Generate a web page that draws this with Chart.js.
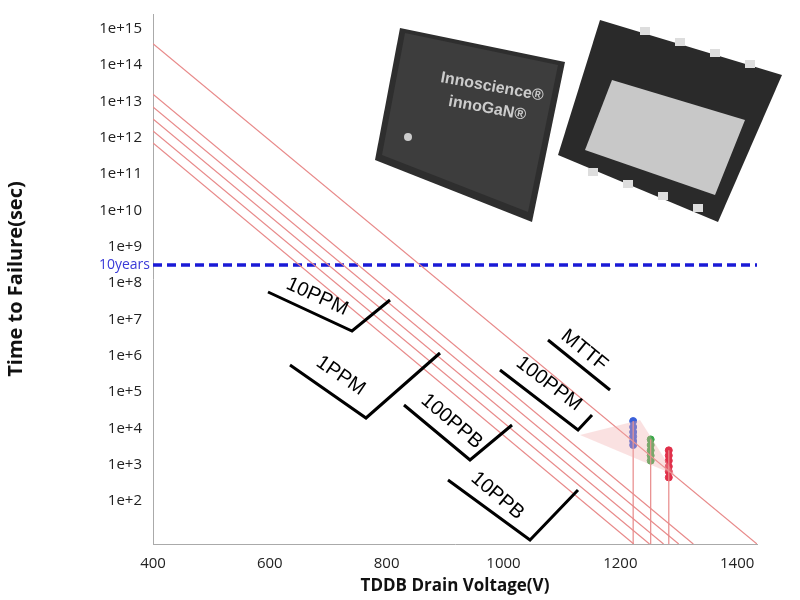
<!DOCTYPE html><html><head><script src="https://cdn.jsdelivr.net/npm/chart.js"></script>
<style>body{margin:0;background:#fff}</style></head><body>
<canvas id="c" width="800" height="600" style="width:800px;height:600px"></canvas>
<script>
const lineNames=['MTTF','100PPM','10PPM','1PPM','100PPB','10PPB'];
const lineStartV=[400,400,400,400,400,400];
const lineStartT=[3.9e14,1.6e13,7.1e12,3.3e12,1.55e12,7.2e11];
const lineEndV=[1434,1325,1300,1274,1250,1223];
const lineEndT=[6.6,6.6,6.6,6.6,6.6,6.6];
const tenYears=3.15e8;
const blueV=[1222,1222,1222,1222,1222,1222];
const blueT=[16000,11000,8000,6000,4500,3500];
const greenV=[1252,1252,1252,1252,1252];
const greenT=[5000,3500,2500,1800,1300];
const redV=[1283,1283,1283,1283,1283,1283];
const redT=[2500,1800,1300,900,650,450];
const yTicks=[2,3,4,5,6,7,8,9,10,11,12,13,14,15];
const xTickLabels=[400,600,800,1000,1200,1400];
const annotations=[
 {t:'10PPM',p:[[268,292],[352,331],[390,300]],x:285,y:288,r:0.43},
 {t:'1PPM',p:[[290,365],[366,418],[440,353]],x:315,y:365,r:0.6},
 {t:'100PPB',p:[[404,405],[470,460],[512,425]],x:420,y:402,r:0.7},
 {t:'10PPB',p:[[448,480],[530,540],[578,490]],x:470,y:480,r:0.7},
 {t:'100PPM',p:[[500,370],[578,430],[592,415]],x:515,y:365,r:0.65},
 {t:'MTTF',p:[[548,340],[610,390]],x:560,y:338,r:0.68}
];
const ds=[];
lineNames.forEach((n,i)=>ds.push({type:'line',label:n,data:[{x:lineStartV[i],y:lineStartT[i]},{x:lineEndV[i],y:lineEndT[i]}],borderColor:'#e88a8a',borderWidth:1.2,pointRadius:0}));
ds.push({type:'line',label:'10years',data:[{x:400,y:tenYears},{x:1434,y:tenYears}],borderColor:'#1a1ad6',borderWidth:3.5,borderDash:[9,5],pointRadius:0});
[[blueV,blueT,'#3a5fd9'],[greenV,greenT,'#3aa84a'],[redV,redT,'#e0304a']].forEach(([v,t,c])=>{
 ds.push({type:'line',data:[{x:v[0],y:t[0]},{x:v[0],y:6.6}],borderColor:'#e88a8a',borderWidth:1.2,pointRadius:0});
 ds.push({type:'scatter',data:v.map((x,i)=>({x,y:t[i]})),backgroundColor:c,borderColor:c,pointRadius:3.5});
});
const deco={id:'deco',afterDraw(ch){const c=ch.ctx;const ys=ch.scales.y;
 c.save();c.fillStyle='#3a3ad8';c.font='14px "Open Sans"';c.textAlign='right';c.textBaseline='middle';c.fillText('10years',150,ys.getPixelForValue(tenYears));
 c.fillStyle='#2e2e2e';c.beginPath();c.moveTo(400,28);c.lineTo(565,62);c.lineTo(532,222);c.lineTo(375,160);c.closePath();c.fill();
 c.fillStyle='#3d3d3d';c.beginPath();c.moveTo(405,33);c.lineTo(558,65);c.lineTo(528,212);c.lineTo(382,155);c.closePath();c.fill();
 c.fillStyle='#ccc';c.font='bold 16px "Liberation Sans"';c.textAlign='left';c.textBaseline='alphabetic';c.save();c.translate(440,82);c.rotate(0.18);c.fillText('Innoscience®',0,0);c.fillText('innoGaN®',12,22);c.restore();
 c.beginPath();c.arc(408,137,4,0,7);c.fill();
 c.fillStyle='#2a2a2a';c.beginPath();c.moveTo(600,20);c.lineTo(782,75);c.lineTo(718,222);c.lineTo(558,155);c.closePath();c.fill();
 c.fillStyle='#c8c8c8';c.beginPath();c.moveTo(612,80);c.lineTo(745,120);c.lineTo(715,195);c.lineTo(585,150);c.closePath();c.fill();
 c.fillStyle='#ddd';for(let i=0;i<4;i++){c.fillRect(640+i*35,27+i*11,10,8);c.fillRect(588+i*35,168+i*12,10,8);}
 c.fillStyle='rgba(240,170,170,0.35)';c.beginPath();c.moveTo(580,435);c.lineTo(640,420);c.lineTo(675,475);c.closePath();c.fill();
 c.strokeStyle='#000';c.lineWidth=3;c.fillStyle='#000';c.font='20px "Liberation Sans"';
 annotations.forEach(a=>{c.beginPath();a.p.forEach((p,i)=>i?c.lineTo(p[0],p[1]):c.moveTo(p[0],p[1]));c.stroke();
  c.save();c.translate(a.x,a.y);c.rotate(a.r);c.fillText(a.t,0,0);c.restore();});
 c.restore();}};
new Chart(document.getElementById('c'),{data:{datasets:ds},plugins:[deco],options:{responsive:false,animation:false,
 layout:{padding:{left:0,right:43,top:14,bottom:0}},
 plugins:{legend:{display:false},tooltip:{enabled:false}},
 scales:{
  x:{type:'linear',min:400,max:1434,grid:{display:false,drawTicks:true},border:{color:'#aaa'},
   afterBuildTicks(s){s.ticks=[];for(let v=400;v<=1400;v+=100)s.ticks.push({value:v});},
   afterFit(s){s.height=56;},
   ticks:{color:'#222',font:{size:15,family:'"Open Sans"'},callback:v=>xTickLabels.includes(v)?String(v):''},
   title:{display:true,text:'TDDB Drain Voltage(V)',color:'#111',font:{size:17,weight:'bold',family:'"Open Sans"'},padding:{top:0}}},
  y:{type:'logarithmic',min:Math.pow(10,0.82),max:Math.pow(10,15.41),grid:{display:false},border:{color:'#aaa'},
   afterBuildTicks(s){s.ticks=yTicks.map(e=>({value:Math.pow(10,e)}));},
   afterFit(s){s.width=153;},
   ticks:{color:'#222',font:{size:15,family:'"Open Sans"'},callback:v=>'1e+'+Math.round(Math.log10(v))},
   title:{display:true,text:'Time to Failure(sec)',color:'#111',font:{size:20,weight:'bold',family:'"Open Sans"'}}}
 }}});
</script></body></html>
